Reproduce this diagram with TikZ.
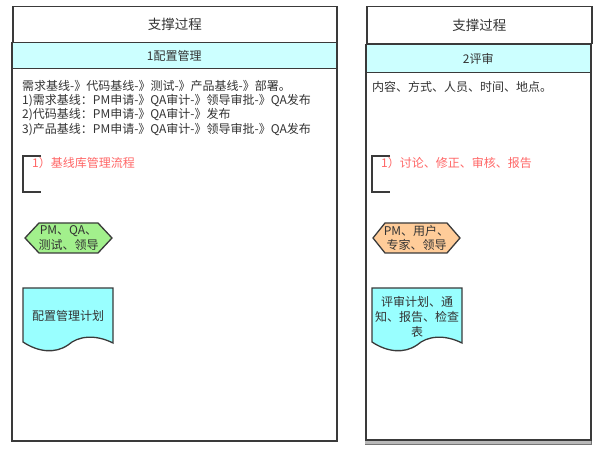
\documentclass[tikz,border=0pt]{standalone}
\usepackage{fontspec}
\setmainfont{Noto Sans CJK SC}
\definecolor{ln}{HTML}{3A3A3A}
\definecolor{tx}{HTML}{333333}
\definecolor{hdcyan}{HTML}{CCFFFF}
\definecolor{doccyan}{HTML}{99FFFF}
\definecolor{hexgreen}{HTML}{A2F08C}
\definecolor{hexorange}{HTML}{FFCC99}
\definecolor{redtx}{HTML}{FF6666}
\tikzset{
  box/.style={draw=ln, line width=1.5pt, anchor=north west, inner sep=0pt},
  txt/.style={text=tx, font=\fontsize{12}{14.3}\selectfont, inner sep=0pt},
  hdtxt/.style={text=tx, font=\fontsize{13.5}{15}\selectfont},
  shp/.style={draw=ln, line width=1.3pt},
  brk/.style={draw=ln, line width=1.3pt},
}
\begin{document}
\begin{tikzpicture}[x=1pt,y=-1pt]
\useasboundingbox (0,0) rectangle (608,457);
% ---------- left panel ----------
\node[box, minimum width=324pt, minimum height=36pt] (lhead) at (12,6) {};
\node[hdtxt] (lheadt) at (lhead.center) {支撑过程};
\node[box, fill=hdcyan, minimum width=325pt, minimum height=26pt] (lsub) at (11,42) {};
\node[txt] (lsubt) at (lsub.center) {1配置管理};
\node[box, minimum width=325pt, minimum height=372pt] (lbody) at (11,68) {};
\node[txt, anchor=north west, align=left] (ltext) at (22,80)
  {需求基线-》代码基线-》测试-》产品基线-》部署。\\
   1)需求基线：PM申请-》QA审计-》领导审批-》QA发布\\
   2)代码基线：PM申请-》QA审计-》发布\\
   3)产品基线：PM申请-》QA审计-》领导审批-》QA发布};
\coordinate (lb1) at (41,156);
\coordinate (lb2) at (41,192);
\draw[brk] (lb1) -| (23,192) -- (lb2);
\node[txt, text=redtx, anchor=west] (lred) at (32,163) {1）基线库管理流程};
\draw[shp, fill=hexgreen] (25,238) -- (39,223) -- (98,223) -- (112,238) -- (98,253) -- (39,253) -- cycle;
\node[txt, align=center] (lhex) at (68.5,238) {PM、QA、\\测试、领导};
\draw[shp, fill=doccyan] (23,288) -- (113,288) -- (113,343)
  .. controls (95,334) and (78,336) .. (68,345)
  .. controls (55,354) and (38,352) .. (23,342) -- cycle;
\node[txt] (ldoc) at (68,316) {配置管理计划};
% ---------- right panel ----------
\node[box, minimum width=225pt, minimum height=37pt] (rhead) at (366,6) {};
\node[hdtxt] (rheadt) at (rhead.center) {支撑过程};
\node[box, fill=hdcyan, minimum width=225pt, minimum height=28pt] (rsub) at (365,44) {};
\node[txt] (rsubt) at (rsub.center) {2评审};
\fill[gray!55] (365,439) rectangle (591,444);
\draw[draw=ln!70, line width=0.8pt] (365,444) -- (591,444) -- (591,439);
\node[box, minimum width=225pt, minimum height=367pt] (rbody) at (365,72) {};
\node[txt, anchor=north west, align=left] (rtext) at (372,81) {内容、方式、人员、时间、地点。};
\coordinate (rb1) at (390,156);
\coordinate (rb2) at (390,192);
\draw[brk] (rb1) -| (372,192) -- (rb2);
\node[txt, text=redtx, anchor=west] (rred) at (381,163) {1）讨论、修正、审核、报告};
\draw[shp, fill=hexorange] (373,238) -- (385,223) -- (447,223) -- (460,238) -- (447,253) -- (385,253) -- cycle;
\node[txt, align=center] (rhex) at (416.5,238) {PM、用户、\\专家、领导};
\draw[shp, fill=doccyan] (372,288) -- (462,288) -- (462,343)
  .. controls (444,334) and (427,336) .. (417,345)
  .. controls (404,354) and (387,352) .. (372,342) -- cycle;
\node[txt, align=center, font=\fontsize{12}{15}\selectfont] (rdoc) at (417,317) {评审计划、通\\知、报告、检查\\表};
\end{tikzpicture}
\end{document}
